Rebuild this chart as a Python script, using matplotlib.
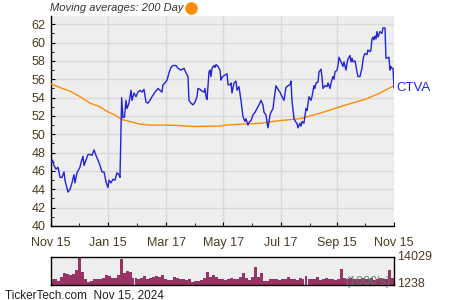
import numpy as np
import pandas as pd
import matplotlib
matplotlib.use('Agg')
import matplotlib.pyplot as plt
from matplotlib.lines import Line2D

plt.rcParams['font.family'] = ['Liberation Sans', 'DejaVu Sans']

# price data: days since Nov 15, 2023 and closing price
price_days = [0, 1.6, 3.2, 5.3, 7.5, 9.6, 11.7, 13.9, 14.9, 18.1, 20.3, 22.4, 24.5, 25.6, 27.7,
              30.9, 32, 34.1, 35.2, 37.3, 39.5, 41.6, 43.7, 45.9, 48, 50.1, 52.3, 54.4, 56.6,
              58.7, 60.8, 61.9, 64, 66.1, 68.3, 70.4, 72.6, 73.6, 75.4, 76.8, 78.4, 80, 81.1,
              83.2, 85.4, 86.4, 88.6, 90.7, 92.8, 95, 97.1, 99.2, 101.4, 103.5, 105.6, 107.8,
              111, 114.2, 116.3, 118.4, 119.5, 121.6, 123.8, 125.9, 128, 130.2, 133.4, 135.5,
              138.7, 141.9, 144, 146.2, 147.2, 149.4, 151.5, 153.6, 155.8, 156.8, 159, 161.1,
              163.3, 164.3, 165.4, 166.5, 168.6, 169.7, 170.7, 171.8, 173.9, 175, 176.1, 178.2,
              179.3, 180.3, 181.4, 182.5, 184.6, 187.8, 188.9, 191, 192.1, 193.1, 195.3, 197.4,
              198.5, 200.6, 202.7, 204.9, 207, 208.1, 210.2, 211.3, 213.4, 215.5, 217.7, 219.8,
              221.9, 224.1, 226.2, 227.3, 229.4, 230.5, 231.5, 233.7, 234.7, 236.9, 237.9, 240.1,
              242.2, 244.3, 246.5, 248.6, 250.7, 252.9, 255, 256.1, 257.1, 259.3, 261.4, 262.5,
              263.5, 265.7, 266.8, 267.8, 269.9, 272.1, 273.2, 275.3, 277.4, 278.5, 280.6, 281.7,
              282.8, 284.9, 286, 288.1, 289.2, 290.2, 292.4, 294.5, 295.6, 297.7, 298.8, 300.9,
              302, 303, 305.2, 306.2, 307.3, 309.4, 311.6, 312.6, 314.8, 315.8, 316.9, 319,
              320.1, 321.2, 322.2, 324.4, 325.4, 326.5, 327.6, 329.7, 331.8, 332.9, 334, 335,
              337.2, 338.2, 340.4, 341.4, 342.5, 343.6, 344.6, 345.7, 346.8, 347.8, 348.9, 350,
              351, 353.2, 354.2, 356.4, 357.4, 358.5, 360.6, 361.7, 362.7, 363.8, 364.9, 366]
prices = [46.9, 47.2, 46.6, 46.2, 46.4, 45.3, 45.3, 45.9, 45.0, 43.7, 44.0, 44.7, 45.6, 44.7, 45.8,
          46.4, 46.9, 47.6, 46.6, 47.2, 47.8, 47.8, 47.7, 48.3, 47.7, 47.2, 46.6, 45.9, 45.9,
          44.8, 44.2, 45.0, 44.7, 45.1, 45.0, 45.8, 45.6, 45.3, 54.0, 51.8, 51.9, 53.7, 52.8,
          53.4, 54.8, 53.7, 54.5, 54.1, 54.6, 54.8, 54.6, 54.9, 53.5, 53.4, 53.7, 54.1,
          54.6, 55.0, 54.8, 54.6, 55.4, 55.6, 55.9, 56.7, 57.3, 57.5, 57.5, 57.2,
          57.0, 57.2, 56.7, 56.3, 53.7, 53.4, 53.2, 53.5, 54.1, 55.0, 54.9, 54.7,
          54.6, 55.0, 54.1, 53.8, 56.8, 57.0, 56.3, 57.2, 57.5, 57.3, 57.6, 57.4,
          57.2, 57.0, 55.9, 56.2, 56.4, 56.6, 55.4, 55.4, 55.6, 54.5, 55.6, 55.8,
          54.8, 55.2, 53.7, 51.9, 51.4, 51.7, 51.0, 51.3, 51.5, 52.1, 52.4, 52.8,
          53.2, 53.7, 53.2, 52.4, 52.1, 51.3, 50.7, 52.1, 52.4, 52.8, 53.7, 55.3,
          54.9, 54.6, 54.1, 53.7, 55.1, 55.3, 55.4, 55.8, 53.7, 51.7, 51.3, 51.2,
          50.7, 51.2, 50.9, 51.4, 51.2, 52.8, 52.6, 54.1, 53.7, 54.1, 55.3, 55.0,
          55.6, 55.7, 56.8, 57.1, 56.2, 55.0, 55.3, 55.2, 55.6, 55.0, 55.6, 56.3,
          56.0, 56.8, 57.0, 57.5, 58.4, 57.9, 57.4, 57.9, 57.0, 57.7, 58.2, 58.6,
          57.9, 58.3, 57.9, 58.0, 57.5, 56.8, 56.3, 56.3, 57.2, 58.1, 58.6, 58.8,
          58.7, 59.2, 59.0, 59.2, 60.4, 60.6, 60.3, 60.7, 60.4, 61.2, 60.6, 60.9,
          61.2, 61.0, 61.6, 61.6, 58.3, 58.3, 58.4, 57.0, 57.4, 57.2, 57.2, 55.1]

# 200 day moving average
ma_days = [0, 9.6, 20.3, 30.9, 41.6, 52.3, 59.8, 68.3, 75.8, 84.3, 95, 105.6, 121.6, 137.6,
           151.5, 180.3, 185.7, 201.7, 223, 244.3, 265.7, 287, 308.4, 324.4, 335, 351, 366]
ma_values = [55.5, 55.1, 54.7, 54.1, 53.4, 53.0, 52.5, 52.1, 51.6, 51.4, 51.1, 51.0, 51.0, 50.95,
             50.85, 50.9, 51.0, 51.1, 51.2, 51.5, 51.7, 52.3, 53.0, 53.5, 53.8, 54.5, 55.3]

# volume (thousands)
volume = [4100, 3800, 3100, 4900, 6500, 6400, 5600, 6400, 8000, 14029, 7000, 4000, 2800,
          3000, 4000, 4000, 3900, 4300, 6000, 5200, 4500, 4600, 6000, 13000, 6800, 7800,
          7000, 4300, 4300, 4200, 4400, 5500, 4200, 4300, 4800, 5300, 4900, 5800, 3800,
          3600, 3500, 4700, 4300, 3900, 4000, 3600, 3900, 2800, 3000, 3200, 3500, 4300,
          7300, 4700, 5600, 5000, 4200, 3800, 3400, 4200, 4500, 4200, 4200, 5000, 6500,
          4300, 3500, 5000, 9400, 4800, 6800, 3000, 3200, 4200, 3900, 4200, 3500,
          3900, 4200, 4900, 4100, 3800, 3600, 4300, 4000, 5400, 4200, 3900, 4100, 4800,
          3700, 4000, 4500, 3900, 4200, 3600, 4100, 8500, 4300, 3900, 4400, 4000, 3800,
          4200, 4600, 3900, 4100, 4300, 3700, 4000, 4400, 3900, 4200, 8000, 4300, 6700]
vol_min, vol_max = 1238, 14029

start = pd.Timestamp('2023-11-15')
end = pd.Timestamp('2024-11-15')
tick_dates = ['2023-11-15', '2024-01-15', '2024-03-17', '2024-05-17', '2024-07-17', '2024-09-15', '2024-11-15']
tick_labels = ['Nov 15', 'Jan 15', 'Mar 17', 'May 17', 'Jul 17', 'Sep 15', 'Nov 15']
minor_dates = ['2023-12-15', '2024-02-15', '2024-04-17', '2024-06-17', '2024-08-17', '2024-10-15']

txt = '#4a3b1f'
bg = '#eeeeee'
grid_c = '#d9d9d9'

fig = plt.figure(figsize=(4.5, 3), dpi=100)
ax = fig.add_axes([51/450, 1-226/300, 343/450, 210/300])
ax.set_facecolor(bg)

pdates = start + pd.to_timedelta(price_days, unit='D')
mdates_ma = start + pd.to_timedelta(ma_days, unit='D')
ax.plot(mdates_ma, ma_values, color='#ff8c00', lw=1.0, zorder=3)
ax.plot(pdates, prices, color='#2222dd', lw=1.0, zorder=4)

ax.set_xlim(start, end)
ax.set_ylim(40, 62.9)
ax.set_yticks(np.arange(40, 63, 2))
ax.set_yticks(np.arange(41, 63, 2), minor=True)
ax.set_xticks(pd.to_datetime(tick_dates))
ax.set_xticklabels(tick_labels)
ax.set_xticks(pd.to_datetime(minor_dates), minor=True)
ax.grid(True, which='major', color=grid_c, lw=1.0, zorder=0)
ax.set_axisbelow(True)
for s in ['top', 'right']:
    ax.spines[s].set_visible(False)
for s in ['left', 'bottom']:
    ax.spines[s].set_color('black')
    ax.spines[s].set_linewidth(1.0)
ax.tick_params(axis='both', which='both', direction='in', colors='black', labelcolor=txt, labelsize=9)
ax.tick_params(axis='y', which='major', length=3, pad=4)
ax.tick_params(axis='y', which='minor', length=2)
ax.tick_params(axis='x', which='major', length=3, pad=8)
ax.tick_params(axis='x', which='minor', length=2)

ax.text(1.007, (prices[-1] - 40) / 22.9, 'CTVA', transform=ax.transAxes, color='#2222dd',
        fontsize=9.5, va='center', ha='left')

# title
fig.text(50/450, 1-8/300, 'Moving averages: 200 Day', fontsize=8, style='italic',
         color='#333333', va='center', ha='left')
fig.add_artist(Line2D([191/450], [1-8/300], marker='o', ms=8, color='#ff8c00',
                      transform=fig.transFigure))

# volume panel
axv = fig.add_axes([51/450, 1-285/300, 343/450, 28/300])
axv.set_facecolor(bg)
vdates = pd.date_range(start, end, periods=len(volume))
width = (end - start).days / len(volume)
axv.bar(vdates, volume, width=width, color='#993366', align='edge', lw=0)
axv.set_xlim(start, end)
axv.set_ylim(vol_min, vol_max)
axv.set_xticks([])
axv.set_yticks([])
for s in axv.spines.values():
    s.set_color('black')
    s.set_linewidth(1.0)
axv.text(1.01, 1.0, str(vol_max), transform=axv.transAxes, fontsize=9, color=txt, va='center', ha='left')
axv.text(1.01, 0.05, str(vol_min), transform=axv.transAxes, fontsize=9, color=txt, va='center', ha='left')
axv.text(0.99, 0.1, "(1000's)", transform=axv.transAxes, fontsize=9, color='#4d7f6a', alpha=0.85,
         va='center', ha='right')

fig.text(5/450, 1-295/300, 'TickerTech.com  Nov 15, 2024', fontsize=8.5, color='#222222',
         va='center', ha='left')

fig.savefig('out.png', dpi=100)
